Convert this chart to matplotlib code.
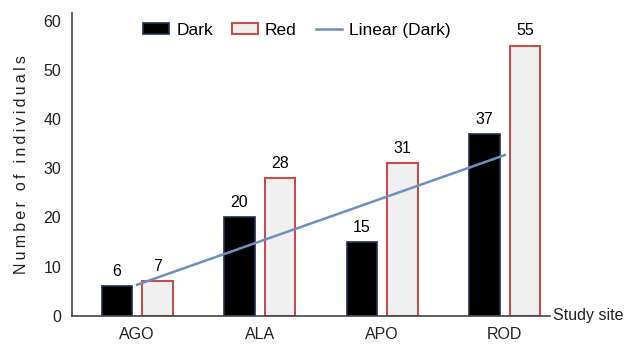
import numpy as np
import matplotlib.pyplot as plt

plt.rcParams['font.family'] = ['Liberation Sans', 'DejaVu Sans']

# datos
sitios = ["AGO", "ALA", "APO", "ROD"]
oscuro = [6, 20, 15, 37]
rojo = [7, 28, 31, 55]

fig = plt.figure(figsize=(6.39, 3.45), dpi=100)
ax = fig.add_axes([0.113, 0.085, 0.748, 0.877])

x = np.arange(len(sitios))
ancho = 0.25
desp = 0.165

b1 = ax.bar(x - desp, oscuro, ancho, color='black', edgecolor='#1f2f4f', linewidth=1.2, label='Dark')
b2 = ax.bar(x + desp, rojo, ancho, color='#f0f0f0', edgecolor='#c0504d', linewidth=1.5, label='Red')

# tendencia lineal de Dark (como en Excel, x = 1..n)
xs = np.arange(1, len(oscuro) + 1)
m, c = np.polyfit(xs, oscuro, 1)
linea, = ax.plot(x, m * xs + c, color='#6f8fbf', linewidth=1.8, label='Linear (Dark)')

# etiquetas de valores
for xi, v in zip(x - desp, oscuro):
    ax.text(xi, v + 1.5, str(v), ha='center', va='bottom', fontsize=11.5)
for xi, v in zip(x + desp, rojo):
    ax.text(xi, v + 1.5, str(v), ha='center', va='bottom', fontsize=11.5)

ax.set_xlim(-0.53, 3.37)
ax.set_ylim(0, 61.6)
ax.set_yticks(range(0, 61, 10))
ax.set_xticks(x)
ax.set_xticklabels(sitios)
ax.tick_params(axis='both', length=0, labelsize=11.5, colors='#222222')
ax.tick_params(axis='x', pad=8)
ax.tick_params(axis='y', pad=8)

for s in ['top', 'right']:
    ax.spines[s].set_visible(False)
for s in ['left', 'bottom']:
    ax.spines[s].set_color('#444444')
    ax.spines[s].set_linewidth(1.2)

# etiqueta con letras espaciadas
etiqueta = "\u2009 \u2009".join("\u2009".join(p) for p in "Number of individuals".split())
ax.set_ylabel(etiqueta, fontsize=11.5, color='#222222', labelpad=10)
ax.text(1.005, 0.0, "Study site", transform=ax.transAxes, ha='left', va='center', fontsize=11.5, color='#222222')

ax.legend(handles=[b1, b2, linea], loc='upper center', bbox_to_anchor=(0.47, 1.02), ncol=3,
          frameon=False, fontsize=12.5, handlelength=1.5, handleheight=0.6,
          columnspacing=1.1, handletextpad=0.4)

plt.savefig("out.png", dpi=100)
